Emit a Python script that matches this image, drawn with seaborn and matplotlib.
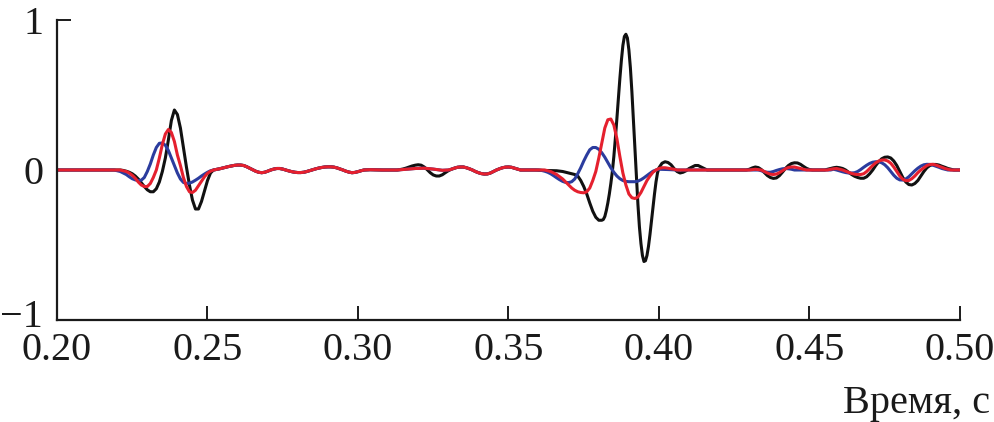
import numpy as np
import pandas as pd
import seaborn as sns
import matplotlib.pyplot as plt
import matplotlib.transforms as mtransforms

# Werte: (Zeit in ms, Amplitude)
quiet_start = [(200, 0.0), (219, 0.0)]

quiet_a = [(252, 0.0), (253, 0.004), (254, 0.008), (255, 0.013), (256, 0.018), (257, 0.023),
           (258, 0.027), (259, 0.031), (260, 0.033), (261, 0.033), (262, 0.03), (263, 0.022),
           (264, 0.012), (265, 0.002), (266, -0.008), (267, -0.015), (268, -0.018), (269, -0.015),
           (270, -0.008), (271, 0.0), (272, 0.006), (273, 0.01), (274, 0.01), (275, 0.006),
           (276, 0.0), (277, -0.006), (278, -0.011), (279, -0.015), (280, -0.017), (281, -0.017),
           (282, -0.015), (283, -0.01), (284, -0.004), (285, 0.002), (286, 0.008), (287, 0.013),
           (288, 0.017), (289, 0.02), (290, 0.021), (291, 0.021), (292, 0.019), (293, 0.014),
           (294, 0.007), (295, 0.0), (296, -0.008), (297, -0.014), (298, -0.018), (299, -0.016),
           (300, -0.011), (301, -0.005), (302, 0.0), (304, 0.002), (308, 0.0), (312, 0.0)]

quiet_b = [(331, 0.005), (332, 0.012), (333, 0.018), (334, 0.02), (335, 0.02), (336, 0.015),
           (337, 0.008), (338, 0.0), (339, -0.01), (340, -0.018), (341, -0.024), (342, -0.027),
           (343, -0.026), (344, -0.02), (345, -0.01), (346, 0.0), (347, 0.008), (348, 0.015),
           (349, 0.019), (350, 0.02), (351, 0.018), (352, 0.012), (353, 0.006), (354, 0.0),
           (359, 0.0)]

black_wave1 = [(221, 0.0), (222, -0.003), (223, -0.008), (224, -0.015), (225, -0.025), (226, -0.04),
               (227, -0.06), (228, -0.085), (229, -0.11), (230, -0.132), (231, -0.145), (232, -0.145),
               (233, -0.125), (234, -0.08), (235, -0.01), (236, 0.08), (237, 0.2), (238, 0.33),
               (239, 0.4), (240, 0.37), (241, 0.28), (242, 0.15), (243, 0.02), (244, -0.1),
               (245, -0.2), (246, -0.26), (247, -0.26), (248, -0.21), (249, -0.14), (250, -0.07),
               (251, -0.02)]
black_mid = [(313, 0.0), (314, 0.003), (315, 0.007), (316, 0.013), (317, 0.02), (318, 0.027),
             (319, 0.032), (320, 0.035), (321, 0.032), (322, 0.02), (323, 0.002), (324, -0.018),
             (325, -0.033), (326, -0.04), (327, -0.04), (328, -0.032), (329, -0.018), (330, -0.005)]
black_wave2 = [(362, -0.003), (366, -0.005), (368, -0.01), (370, -0.02), (372, -0.03), (373, -0.04),
               (374, -0.07), (375, -0.11), (376, -0.16), (377, -0.22), (378, -0.275), (379, -0.315),
               (380, -0.335), (381, -0.335), (381.5, -0.33), (382, -0.31), (382.5, -0.27), (383, -0.22),
               (383.5, -0.16), (384, -0.09), (384.5, -0.01), (385, 0.09), (385.5, 0.21), (386, 0.34),
               (386.5, 0.48), (387, 0.61), (387.5, 0.73), (388, 0.83), (388.5, 0.89), (389, 0.905),
               (389.5, 0.88), (390, 0.8), (390.5, 0.68), (391, 0.52), (391.5, 0.33), (392, 0.13),
               (392.5, -0.06), (393, -0.23), (393.5, -0.38), (394, -0.49), (394.5, -0.57), (395, -0.61),
               (395.5, -0.605), (396, -0.57), (396.5, -0.51), (397, -0.43), (397.5, -0.34), (398, -0.25),
               (398.5, -0.16), (399, -0.08), (399.5, -0.02), (400, 0.015), (401, 0.045), (402, 0.055),
               (403, 0.05), (404, 0.035), (405, 0.01), (406, -0.01), (407, -0.02), (408, -0.015),
               (409, -0.005), (410, 0.01), (411, 0.02), (412, 0.03), (413, 0.03), (414, 0.02),
               (415, 0.01), (416, 0.0), (429, 0.0)]
black_tail = [(430, 0.005), (431, 0.014), (432, 0.02), (433, 0.016), (434, 0.003), (435, -0.017),
              (436, -0.037), (437, -0.05), (438, -0.056), (439, -0.053), (440, -0.038), (441, -0.015),
              (442, 0.01), (443, 0.03), (444, 0.043), (445, 0.048), (446, 0.047), (447, 0.038),
              (448, 0.024), (449, 0.011), (450, 0.003), (451, 0.0), (455, 0.0), (456, 0.005),
              (457, 0.01), (458, 0.015), (459, 0.018), (460, 0.015), (461, 0.01), (462, 0.0),
              (463, -0.015), (464, -0.03), (465, -0.042), (466, -0.05), (467, -0.055), (468, -0.055),
              (469, -0.045), (470, -0.025), (471, 0.0), (472, 0.03), (473, 0.055), (474, 0.075),
              (475, 0.085), (476, 0.087), (477, 0.08), (478, 0.06), (479, 0.03), (480, -0.01),
              (481, -0.05), (482, -0.08), (483, -0.097), (484, -0.1), (485, -0.09), (486, -0.07),
              (487, -0.04), (488, -0.01), (489, 0.015), (490, 0.03), (491, 0.037), (492, 0.037),
              (493, 0.033), (494, 0.025), (495, 0.018), (496, 0.01), (497, 0.005), (498, 0.0),
              (500, 0.0)]

red_wave1 = [(221, 0.0), (222, -0.005), (223, -0.01), (224, -0.02), (225, -0.035), (226, -0.055),
             (227, -0.08), (228, -0.1), (229, -0.11), (230, -0.11), (231, -0.09), (232, -0.05),
             (233, 0.0), (234, 0.08), (235, 0.17), (236, 0.24), (237, 0.27), (238, 0.25),
             (239, 0.19), (240, 0.1), (241, 0.03), (242, -0.05), (243, -0.11), (244, -0.145),
             (245, -0.15), (246, -0.135), (247, -0.105), (248, -0.075), (249, -0.045), (250, -0.022),
             (251, -0.008)]
red_mid = [(313, 0.0), (316, 0.005), (319, 0.01), (322, 0.012), (325, 0.006), (328, -0.002), (330, 0.0)]
red_wave2 = [(362, 0.0), (363, -0.005), (364, -0.01), (365, -0.02), (366, -0.03), (367, -0.045),
             (368, -0.06), (369, -0.08), (370, -0.1), (371, -0.12), (372, -0.135), (373, -0.145),
             (374, -0.15), (375, -0.152), (376, -0.145), (377, -0.12), (378, -0.07), (379, -0.01),
             (380, 0.08), (381, 0.18), (382, 0.28), (383, 0.335), (384, 0.34), (385, 0.3),
             (386, 0.21), (387, 0.09), (388, -0.02), (389, -0.1), (390, -0.16), (391, -0.185),
             (392, -0.19), (393, -0.18), (394, -0.15), (395, -0.11), (396, -0.07), (397, -0.04),
             (398, -0.015), (399, 0.0), (400, 0.01), (401, 0.015), (402, 0.015), (403, 0.012),
             (404, 0.008), (405, 0.005), (406, 0.0), (430, 0.0)]
red_tail = [(432, 0.005), (434, 0.0), (435, -0.01), (436, -0.02), (437, -0.028), (438, -0.03),
            (439, -0.027), (440, -0.018), (441, -0.005), (442, 0.008), (443, 0.017), (444, 0.02),
            (445, 0.02), (446, 0.015), (447, 0.01), (448, 0.005), (449, 0.0), (456, 0.0),
            (457, 0.005), (458, 0.008), (459, 0.01), (460, 0.005), (461, 0.0), (462, -0.008),
            (463, -0.016), (464, -0.023), (465, -0.028), (466, -0.03), (467, -0.03), (468, -0.025),
            (469, -0.01), (470, 0.01), (471, 0.03), (472, 0.048), (473, 0.06), (474, 0.066),
            (475, 0.067), (476, 0.06), (477, 0.045), (478, 0.02), (479, -0.01), (480, -0.04),
            (481, -0.062), (482, -0.071), (483, -0.07), (484, -0.058), (485, -0.04), (486, -0.018),
            (487, 0.0), (488, 0.015), (489, 0.03), (490, 0.037), (491, 0.038), (492, 0.033),
            (493, 0.025), (494, 0.018), (495, 0.01), (496, 0.005), (497, 0.0), (500, 0.0)]

blue_wave1 = [(220, -0.005), (221, -0.01), (222, -0.02), (223, -0.03), (224, -0.045), (225, -0.058),
              (226, -0.066), (227, -0.07), (228, -0.068), (229, -0.05), (230, -0.01), (231, 0.04),
              (232, 0.1), (233, 0.15), (234, 0.178), (235, 0.18), (236, 0.165), (237, 0.13),
              (238, 0.08), (239, 0.03), (240, -0.02), (241, -0.06), (242, -0.083), (243, -0.09),
              (244, -0.088), (245, -0.08), (246, -0.068), (247, -0.055), (248, -0.04), (249, -0.027),
              (250, -0.015), (251, -0.005)]
blue_wave2 = [(360, 0.0), (361, -0.003), (362, -0.008), (363, -0.015), (364, -0.025), (365, -0.038),
              (366, -0.052), (367, -0.065), (368, -0.076), (369, -0.083), (370, -0.084), (371, -0.078),
              (372, -0.06), (373, -0.025), (374, 0.015), (375, 0.06), (376, 0.1), (377, 0.135),
              (378, 0.15), (379, 0.15), (380, 0.138), (381, 0.115), (382, 0.085), (383, 0.05),
              (384, 0.015), (385, -0.015), (386, -0.04), (387, -0.058), (388, -0.07), (389, -0.076),
              (390, -0.078), (391, -0.078), (392, -0.078), (393, -0.074), (394, -0.065), (395, -0.052),
              (396, -0.037), (397, -0.022), (398, -0.008), (399, 0.0), (400, 0.005), (403, 0.003),
              (406, 0.0), (433, 0.0)]
blue_tail = [(434, -0.005), (435, -0.012), (436, -0.015), (437, -0.015), (438, -0.01), (439, -0.003),
             (440, 0.003), (441, 0.008), (442, 0.01), (443, 0.008), (444, 0.005), (445, 0.0),
             (457, 0.0), (458, 0.005), (459, 0.0), (460, -0.006), (461, -0.012), (462, -0.017),
             (463, -0.02), (464, -0.02), (465, -0.018), (466, -0.01), (467, 0.003), (468, 0.018),
             (469, 0.032), (470, 0.044), (471, 0.052), (472, 0.055), (473, 0.055), (474, 0.048),
             (475, 0.035), (476, 0.015), (477, -0.01), (478, -0.035), (479, -0.055), (480, -0.066),
             (481, -0.067), (482, -0.06), (483, -0.045), (484, -0.025), (485, -0.005), (486, 0.012),
             (487, 0.026), (488, 0.035), (489, 0.038), (490, 0.037), (491, 0.032), (492, 0.025),
             (493, 0.018), (494, 0.01), (495, 0.005), (496, 0.0), (500, 0.0)]

series = {
    'black': quiet_start + black_wave1 + quiet_a + black_mid + quiet_b + black_wave2 + black_tail,
    'blue': quiet_start + blue_wave1 + quiet_a + red_mid + quiet_b + blue_wave2 + blue_tail,
    'red': quiet_start + red_wave1 + quiet_a + red_mid + quiet_b + red_wave2 + red_tail,
}
farben = {'black': '#111111', 'blue': '#2b3c9e', 'red': '#e5202e'}

x_ticks = [0.20, 0.25, 0.30, 0.35, 0.40, 0.45, 0.50]
y_ticks = [-1, 0, 1]

rows = []
for name, pts in series.items():
    for ms, v in pts:
        rows.append({'t': ms / 1000, 'v': v, 'kurve': name})
df = pd.DataFrame(rows)

sns.set_style('ticks')
plt.rcParams['font.family'] = ['Liberation Serif', 'DejaVu Serif']
plt.rcParams['axes.unicode_minus'] = True

fig = plt.figure(figsize=(9.95, 4.22), dpi=100)
ax = fig.add_axes([57 / 995, 102 / 422, 903 / 995, 300 / 422])

sns.lineplot(data=df, x='t', y='v', hue='kurve', hue_order=['black', 'blue', 'red'],
             palette=farben, estimator=None, sort=False, legend=False, linewidth=2.2, ax=ax)

ax.set_xlim(0.2, 0.5)
ax.set_ylim(-1, 1)
ax.set_xticks(x_ticks)
ax.set_xticklabels([f'{x:.2f}' for x in x_ticks])
ax.set_yticks(y_ticks)
ax.set_yticklabels(['\u22121', '0', '1'])
ax.tick_params(direction='in', length=10, width=1.4, labelsize=29, colors='#1a1a1a')
ax.tick_params(axis='x', pad=9)
ax.tick_params(axis='y', pad=10)
for s in ['top', 'right']:
    ax.spines[s].set_visible(False)
for s in ['left', 'bottom']:
    ax.spines[s].set_linewidth(1.6)
    ax.spines[s].set_color('#1a1a1a')

# "−1" etwas nach oben schieben, wie im Original
lbl = ax.get_yticklabels()[0]
lbl.set_transform(lbl.get_transform() + mtransforms.ScaledTranslation(0, 5 / 72, fig.dpi_scale_trans))

ax.set_ylabel('')
ax.set_xlabel('Время, с', fontsize=29, color='#1a1a1a', ha='right')
ax.xaxis.set_label_coords(1.033, -0.215)

fig.savefig('out.png', dpi=100)
